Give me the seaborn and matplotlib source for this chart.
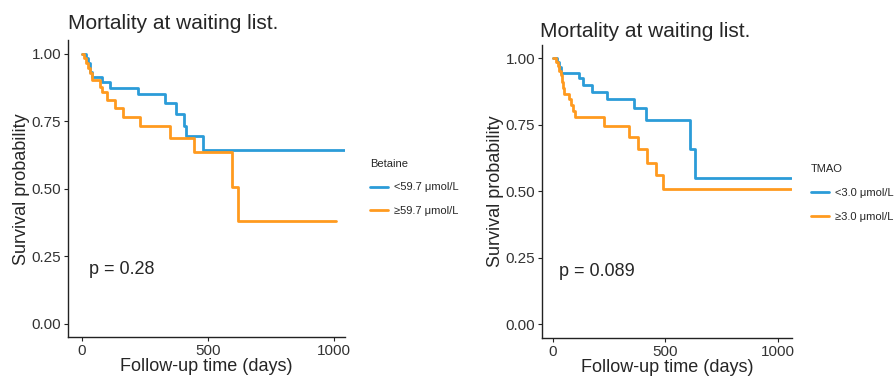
import numpy as np
import pandas as pd
import matplotlib
matplotlib.use('Agg')
import matplotlib.pyplot as plt
import seaborn as sns
from matplotlib.lines import Line2D

sns.set_theme(style='ticks')
plt.rcParams['font.family'] = ['Liberation Sans', 'DejaVu Sans']

# Kaplan-Meier step values
bet_low_t = [0, 17, 26, 33, 42, 79, 112, 222, 331, 374, 406, 414, 480, 1045]
bet_low_s = [1, 0.984, 0.965, 0.935, 0.916, 0.897, 0.875, 0.852, 0.817, 0.778, 0.733, 0.696, 0.644, 0.644]
bet_high_t = [0, 9, 17, 26, 33, 40, 73, 79, 99, 132, 165, 231, 350, 446, 598, 621, 1009]
bet_high_s = [1, 0.984, 0.965, 0.947, 0.928, 0.904, 0.877, 0.858, 0.828, 0.800, 0.767, 0.733, 0.689, 0.637, 0.509, 0.383, 0.383]

tma_low_t = [0, 20, 29, 35, 118, 133, 173, 239, 360, 414, 609, 631, 1055]
tma_low_s = [1, 0.987, 0.968, 0.946, 0.925, 0.900, 0.875, 0.846, 0.812, 0.768, 0.658, 0.549, 0.549]
tma_high_t = [0, 15, 23, 29, 35, 40, 44, 50, 74, 80, 91, 99, 227, 340, 380, 419, 458, 490, 1055]
tma_high_s = [1, 0.987, 0.971, 0.953, 0.937, 0.912, 0.887, 0.868, 0.846, 0.825, 0.804, 0.779, 0.746, 0.706, 0.658, 0.608, 0.562, 0.509, 0.509]

bet_labels = ['<59.7 μmol/L', '≥59.7 μmol/L']
tma_labels = ['<3.0 μmol/L', '≥3.0 μmol/L']
pvals = ['p = 0.28', 'p = 0.089']
colors = ['#2B9CD8', '#FF9A1F']


def make_df(t1, s1, t2, s2, labels):
    a = pd.DataFrame({'time': t1, 'surv': s1, 'group': labels[0]})
    b = pd.DataFrame({'time': t2, 'surv': s2, 'group': labels[1]})
    return pd.concat([a, b], ignore_index=True)


fig = plt.figure(figsize=(8.95, 3.76), dpi=100)
ax1 = fig.add_axes([0.076, 0.1024, 0.3095, 0.79])
ax2 = fig.add_axes([0.6056, 0.102, 0.2793, 0.778])

panels = [
    (ax1, make_df(bet_low_t, bet_low_s, bet_high_t, bet_high_s, bet_labels), bet_labels, 'Betaine', pvals[0], (-54, 1045), (1.055, 0.505)),
    (ax2, make_df(tma_low_t, tma_low_s, tma_high_t, tma_high_s, tma_labels), tma_labels, 'TMAO', pvals[1], (-47, 1061), (1.035, 0.495)),
]

for ax, df, labels, title, ptxt, xlim, legpos in panels:
    sns.lineplot(data=df, x='time', y='surv', hue='group', palette=colors,
                 drawstyle='steps-post', estimator=None, sort=False,
                 linewidth=2, ax=ax, legend=False)
    ax.set_xlim(*xlim)
    ax.set_ylim(-0.05, 1.05)
    ax.set_xticks([0, 500, 1000])
    ax.set_yticks([0, 0.25, 0.5, 0.75, 1.0])
    ax.set_yticklabels(['0.00', '0.25', '0.50', '0.75', '1.00'])
    ax.tick_params(labelsize=11, length=3, width=0.8, pad=2, colors='#222222', labelcolor='#333333')
    for s in ['top', 'right']:
        ax.spines[s].set_visible(False)
    for s in ['left', 'bottom']:
        ax.spines[s].set_color('#222222')
        ax.spines[s].set_linewidth(1.0)
    ax.set_xlabel('Follow-up time (days)', fontsize=13, labelpad=0)
    ax.set_ylabel('Survival probability', fontsize=13, labelpad=1)
    ax.text(30, 0.2, ptxt, fontsize=13, va='center')
    handles = [Line2D([0], [0], color=c, lw=2) for c in colors]
    ax.legend(handles, labels, title=title, loc='center left', bbox_to_anchor=legpos,
              frameon=False, fontsize=8, title_fontsize=8, handlelength=1.6,
              handletextpad=0.55, alignment='left', labelspacing=1.25)

ax1.set_title('Mortality at waiting list.', fontsize=15, loc='left', x=0.0, pad=8)
ax2.set_title('Mortality at waiting list.', fontsize=15, loc='left', x=-0.01, pad=6)

fig.savefig('out.png', dpi=100)
